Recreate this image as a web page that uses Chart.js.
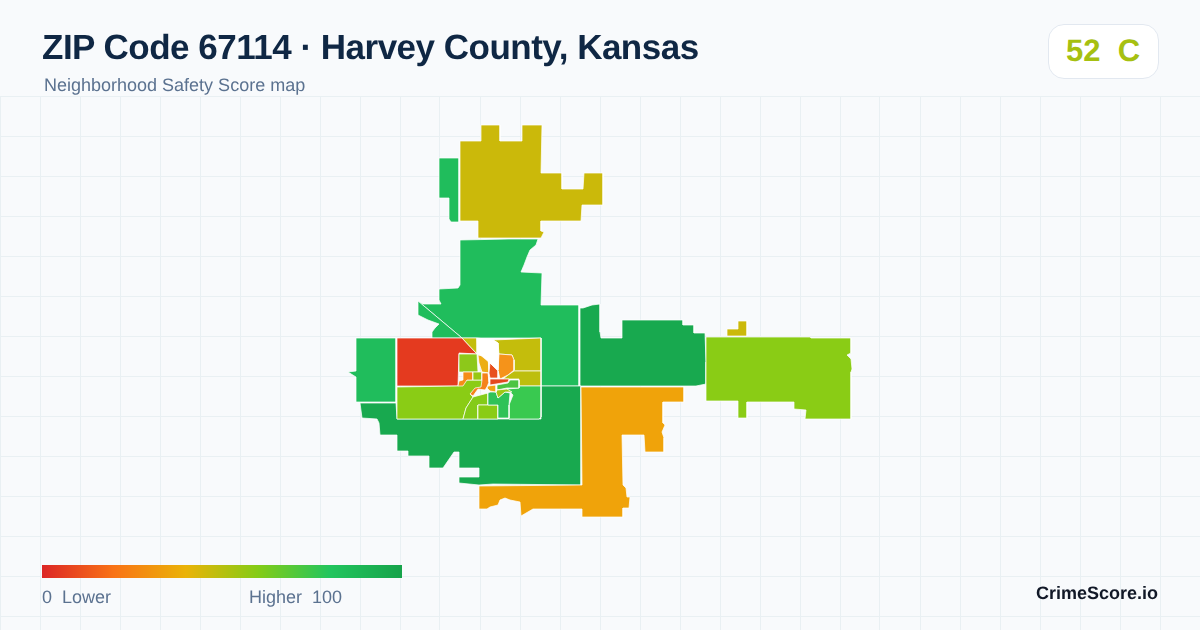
<!DOCTYPE html>
<html><head><meta charset="utf-8">
<script src="https://cdn.jsdelivr.net/npm/chart.js@4"></script>
<style>
html,body{margin:0;padding:0;width:1200px;height:630px;overflow:hidden;background:#f8fafc;font-family:"Liberation Sans",Arial,sans-serif;text-rendering:geometricPrecision}
#wrap{position:relative;width:1200px;height:630px}
canvas{position:absolute;left:0;top:0}
.t{position:absolute;white-space:pre;line-height:1}
#title{left:42px;top:30px;font-size:35px;letter-spacing:-0.5px;font-weight:700;color:#0f2744}
#sub{left:44px;top:76px;font-size:18px;color:#5b7290}
#badge{position:absolute;left:1048px;top:24px;width:109px;height:53px;background:#fff;border:1px solid #e2e8f0;border-radius:16px}
#score{left:1066px;top:35px;font-size:31px;font-weight:700;color:#a6c011}
#bar{position:absolute;left:42px;top:565px;width:360px;height:13px;background:linear-gradient(90deg,#dc2626 0%,#f97316 20%,#eab308 40%,#84cc16 60%,#22c55e 80%,#16a34a 100%)}
.lg{font-size:18px;color:#5b7290;top:588px}
#brand{right:42px;top:584px;font-size:18px;font-weight:700;color:#111827}
</style></head><body><div id="wrap">
<canvas id="c" width="1200" height="630"></canvas>
<div class="t" id="title"></div><div class="t" id="sub"></div>
<div id="badge"></div><div class="t" id="score"></div>
<div id="bar"></div>
<div class="t lg" id="lo" style="left:42px"></div>
<div class="t lg" id="hi" style="left:249px"></div>
<div class="t" id="brand"></div>
</div>
<script>
const titleText="ZIP Code 67114 · Harvey County, Kansas";
const subtitleText="Neighborhood Safety Score map";
const scoreText="52  C";
const lowLabel="0  Lower", highLabel="Higher  100", brandText="CrimeScore.io";
const gridX=[0,40,80,120,160,200,240,280,320,360,400,440,480,520,560,600,640,680,720,760,800,840,880,920,960,1000,1040,1080,1120,1160,1200];
const gridY=[96,136,176,216,256,296,336,376,416,456,496,536,576,616];

// Tract outlines, in map units
const northYellow=[[481,125],[500,125],[500,141],[522,141],[522,125],[542,125],[541,173],[562,173],[562,189],[583,189],[584,173],[603,173],[603,205],[582,205],[581,221],[541,221],[541,231],[544,232],[541,238],[478,238],[478,221],[460,221],[460,141],[481,141]];
const northStrip=[[439,158],[459,158],[459,222],[451,222],[449,219],[449,198],[439,198]];
const centralGreen=[[460,240],[509,239],[538,239],[536,245],[530,250],[527,257],[524,265],[521,272],[542,273],[541,305],[579,305],[579,386],[541,386],[541,338],[462,338],[418,301],[423,304],[441,304],[439,300],[439,289],[458,288],[460,285]];
const wedgeGreen=[[418,301],[462,338],[432,338],[432,332],[435,328],[439,324],[428,320],[418,315]];
const eastDark=[[580,308],[583,308],[592,305],[600,304],[600,332],[601,338],[622,338],[622,320],[683,320],[683,325],[694,325],[694,333],[705,333],[706,362],[706,384],[696,386],[580,386]];
const southAmber=[[581,387],[684,387],[684,402],[663,402],[663,423],[665,425],[662,432],[664,438],[664,452],[645,452],[644,435],[622,435],[623,485],[626,488],[627,497],[630,497],[629,508],[623,508],[623,517],[582,517],[582,509],[533,509],[521,516],[520,502],[510,500],[505,498],[500,500],[498,505],[490,507],[487,509],[479,509],[479,486],[582,485]];
const southDark=[[581,386],[581,485],[493,484],[479,485],[459,483],[459,477],[479,477],[479,468],[459,468],[459,452],[454,452],[443,468],[429,468],[429,456],[408,456],[408,451],[397,451],[397,435],[380,435],[379,423],[377,419],[362,418],[360,403],[396,403],[397,419],[541,419],[541,386]];
const eastLime=[[706,337],[810,337],[811,338],[851,338],[851,353],[847,355],[851,359],[852,369],[851,372],[851,419],[805,419],[806,410],[794,409],[794,402],[747,402],[747,418],[738,418],[738,401],[707,401]];
const eastSpeck=[[727,329],[738,329],[738,321],[747,321],[747,336],[727,336]];
const westGreen=[[356,338],[396,338],[396,402],[356,402],[356,377],[348,372],[356,371]];
const westRed=[[397,338],[462,338],[477,354],[459,353],[458,386],[397,386]];
const gapOlive=[[462,338],[477,338],[477,354]];
const gapWhite=[[477,338],[493,340],[498,343],[498,370],[490,363],[478,353]];
const neOlive=[[493,340],[541,338],[541,371],[514,371],[514,360],[512,355],[499,354],[498,343]];
const neOrange=[[499,354],[512,355],[514,360],[514,370],[508,375],[500,379],[498,370]];
const eastOlive=[[514,371],[541,371],[541,386],[519,386],[519,379],[503,379],[508,375]];
const swLime=[[397,387],[458,386],[467,380],[482,380],[483,387],[470,394],[473,397],[466,408],[463,419],[397,419]];
const midLime=[[473,397],[488,393],[488,405],[478,405],[478,419],[463,419],[466,408]];
const squareLime=[[478,405],[498,405],[498,419],[478,419]];
const coreOrange=[[470,394],[475,388],[481,387],[482,380],[482,373],[488,373],[489,382],[487,387],[485,390],[478,389],[473,396]];
const coreAmber=[[478,355],[488,357],[489,373],[482,372],[479,363]];
const northCoreLime=[[459,354],[477,354],[478,372],[463,372],[459,372]];
const westOrange=[[463,372],[473,372],[473,380],[467,380],[463,386],[458,386],[459,381],[463,380]];
const coreLime=[[473,372],[482,372],[482,380],[473,380]];
const coreRed=[[490,363],[498,371],[498,378],[490,378],[489,373]];
const barRed=[[490,379],[509,379],[508,382],[490,385]];
const smallAmber=[[488,386],[496,385],[496,392],[490,391],[487,388]];
const bandGreen=[[497,385],[508,383],[510,380],[519,380],[519,388],[507,388],[497,390]];
const smallLime=[[497,390],[507,389],[512,392],[505,392],[498,398],[496,392]];
const southMid=[[490,392],[496,392],[498,398],[505,392],[510,393],[509,405],[509,418],[498,418],[498,405],[488,405],[488,393]];
const seGreen=[[519,386],[541,386],[541,417],[539,419],[509,419],[509,405],[513,395],[507,389],[519,388]];

// [outline, fill], painted in this order
const tracts=[
 [northStrip,"#20bd5c"],[northYellow,"#cbb90a"],[centralGreen,"#20bd5c"],[wedgeGreen,"#20bd5c"],
 [eastDark,"#18a94f"],[southDark,"#18a94f"],[southAmber,"#f0a30a"],[eastLime,"#8acc15"],[eastSpeck,"#cbb90a"],
 [westGreen,"#20bd5c"],[westRed,"#e43a1f"],[gapOlive,"#c4bd0c"],[neOlive,"#c4bd0c"],[eastOlive,"#bdbe0e"],
 [swLime,"#8acc15"],[midLime,"#84cb18"],[squareLime,"#8acc15"],[seGreen,"#39c950"],[southMid,"#2fc258"],
 [bandGreen,"#4cc442"],[smallLime,"#9fc814"],[northCoreLime,"#8dc81a"],[westOrange,"#f58d18"],[coreLime,"#98c814"],
 [coreAmber,"#ecae15"],[neOrange,"#f5931a"],[coreOrange,"#f5821a"],[coreRed,"#e8501e"],[barRed,"#e4481f"],
 [smallAmber,"#f2a213"],[gapWhite,"#ffffff"]
];

document.getElementById('title').textContent=titleText;
document.getElementById('sub').textContent=subtitleText;
document.getElementById('score').textContent=scoreText;
document.getElementById('lo').textContent=lowLabel;
document.getElementById('hi').textContent=highLabel;
document.getElementById('brand').textContent=brandText;

new Chart(document.getElementById('c'),{
 type:'scatter',
 data:{datasets:tracts.map(([pts,col],i)=>{
   const d=pts.map(([x,y])=>({x,y})); d.push({x:pts[0][0],y:pts[0][1]});
   return {data:d,showLine:true,tension:0,pointRadius:0,borderColor:'rgba(255,255,255,0.9)',borderWidth:0.8,borderJoinStyle:'miter',
     backgroundColor:col,fill:'shape',order:tracts.length-i};
 })},
 options:{
  responsive:false,animation:false,events:[],devicePixelRatio:1,
  layout:{padding:{top:96,left:0,right:0,bottom:0}},
  plugins:{legend:{display:false},tooltip:{enabled:false},title:{display:false}},
  scales:{
   x:{type:'linear',min:0,max:1200,afterBuildTicks:a=>{a.ticks=gridX.map(value=>({value}))},
      ticks:{display:false},border:{display:false},grid:{color:'#e9f0f3',lineWidth:1,drawTicks:false}},
   y:{type:'linear',min:96,max:630,reverse:true,afterBuildTicks:a=>{a.ticks=gridY.map(value=>({value}))},
      ticks:{display:false},border:{display:false},grid:{color:'#e9f0f3',lineWidth:1,drawTicks:false}}
  }
 }
});
</script></body></html>
